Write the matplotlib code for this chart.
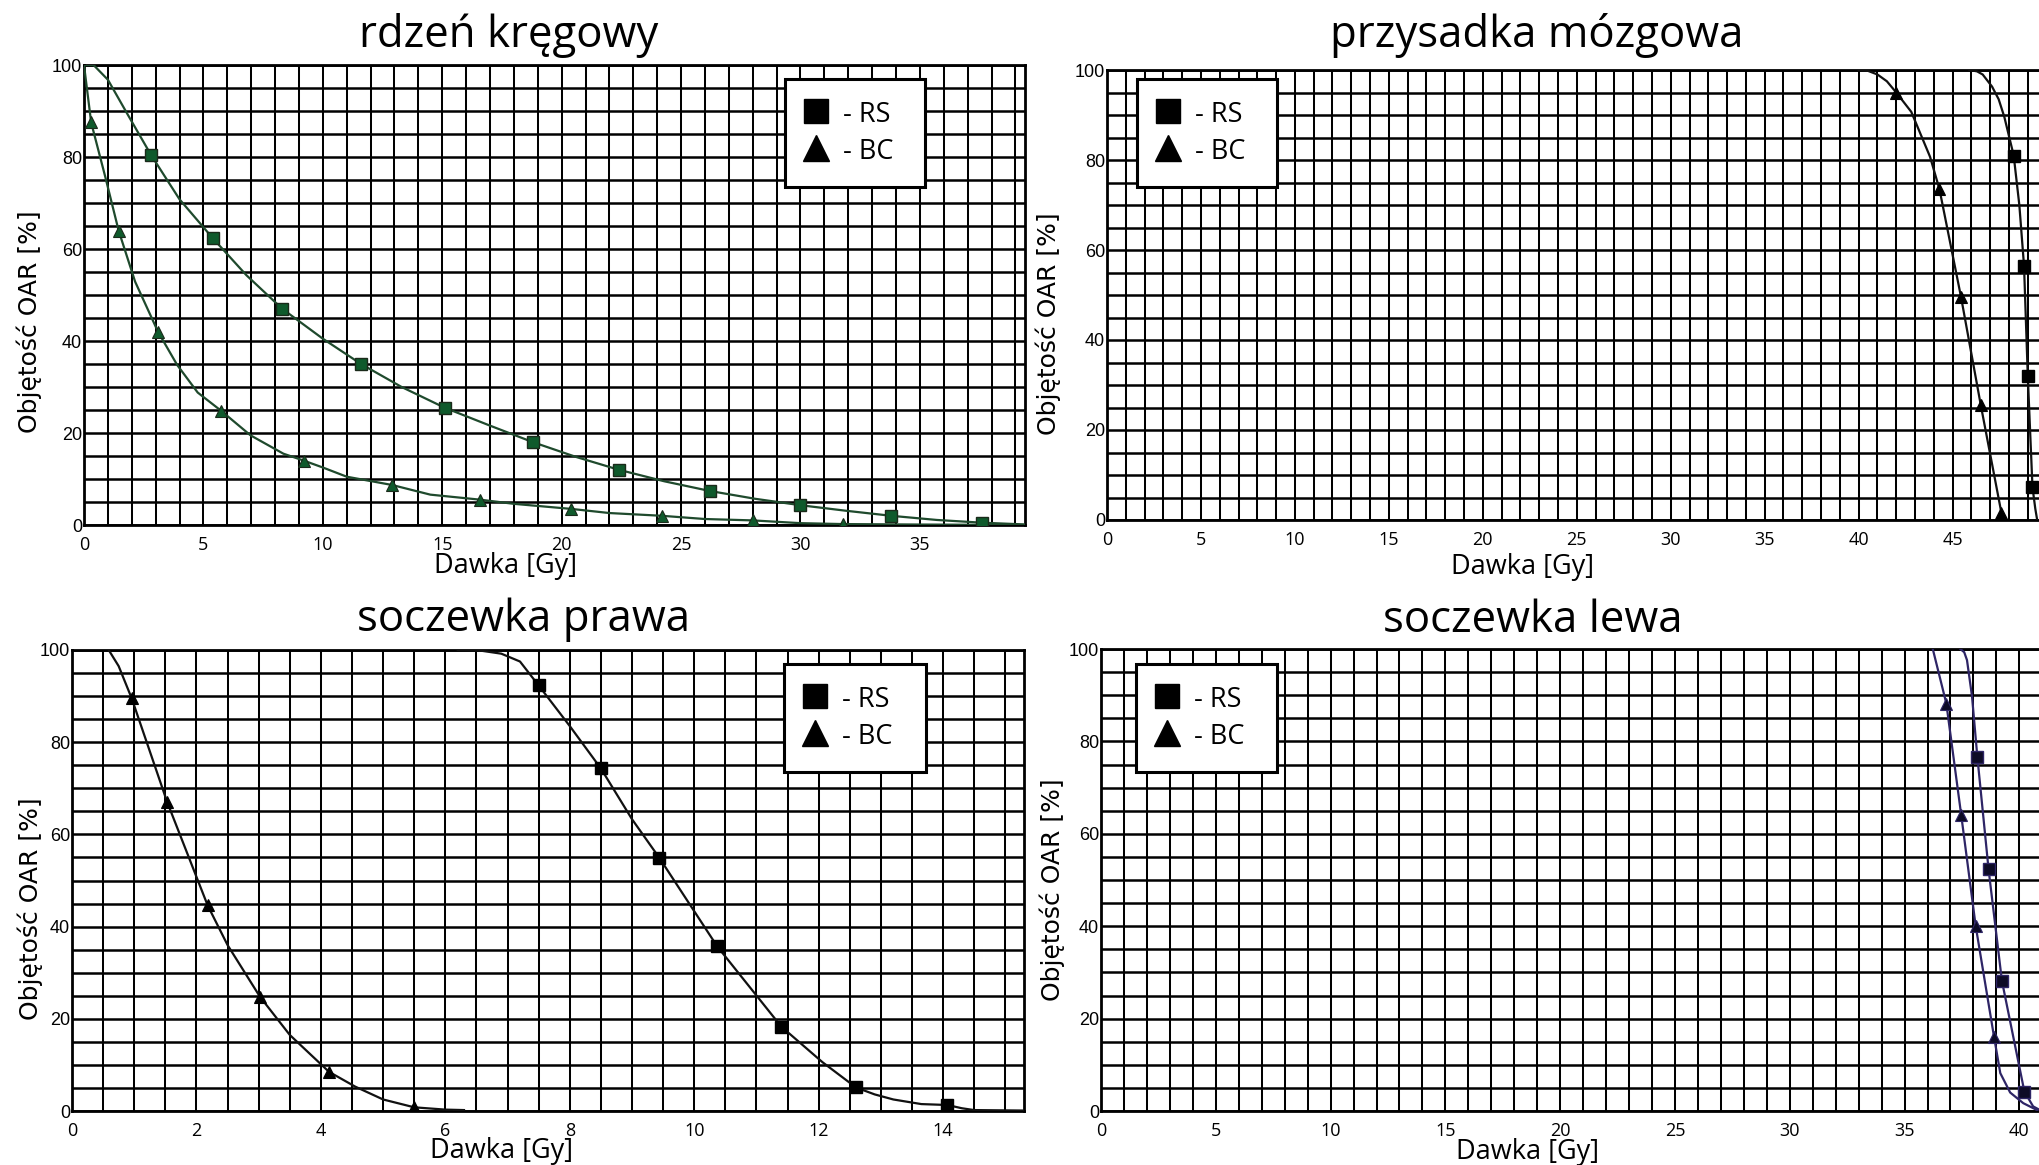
import matplotlib
matplotlib.use("Agg")
import matplotlib.pyplot as plt
from matplotlib.lines import Line2D
from matplotlib.ticker import MultipleLocator

W, H, DPI = 2040, 1165, 100

# ---------------- data ----------------
titles = ["rdzeń kręgowy", "przysadka mózgowa", "soczewka prawa", "soczewka lewa"]
xlabel = "Dawka [Gy]"
ylabel = "Objętość OAR [%]"
legend_labels = ["- RS", "- BC"]

# rdzeń kręgowy
rk_rs_line_x = [0, 0.4, 1.0, 1.8, 2.8, 4.0, 5.4, 6.8, 8.3, 10.0, 11.6, 13.3, 15.1, 17.0, 18.8,
                20.6, 22.4, 24.3, 26.2, 28.1, 30.0, 31.9, 33.8, 35.7, 37.6, 39.5]
rk_rs_line_y = [100, 100, 96.8, 89.5, 80.5, 70.8, 62.3, 54.3, 47, 40.5, 35, 30, 25.5, 21.6, 18,
                14.8, 12, 9.5, 7.4, 5.7, 4.3, 3.1, 2, 1.1, 0.5, 0.1]
rk_rs_mark_x = [2.8, 5.4, 8.3, 11.6, 15.1, 18.8, 22.4, 26.2, 30.0, 33.8, 37.6]
rk_rs_mark_y = [80.5, 62.3, 47, 35, 25.5, 18, 12, 7.4, 4.3, 2, 0.5]
rk_bc_line_x = [0, 0.3, 0.9, 1.45, 2.14, 3.1, 3.9, 4.76, 5.75, 6.97, 8.35, 9.2, 10, 11, 12.9,
                14.5, 16.6, 18, 20.4, 22, 24.2, 26, 28, 30, 31.8, 35, 39.5]
rk_bc_line_y = [100, 87.5, 75.5, 64, 52.9, 42, 34.8, 28.8, 24.8, 19.5, 15.5, 14, 12.5, 10.5,
                8.7, 6.6, 5.5, 4.6, 3.5, 2.6, 2, 1.3, 1, 0.4, 0.2, 0.1, 0]
rk_bc_mark_x = [0.3, 1.45, 3.1, 5.75, 9.2, 12.9, 16.6, 20.4, 24.2, 28.0, 31.8]
rk_bc_mark_y = [87.5, 64, 42, 24.8, 14, 8.7, 5.5, 3.5, 2, 1, 0.2]

# przysadka mózgowa
pm_rs_line_x = [45.9, 46.3, 46.6, 47.1, 47.45, 47.75, 48.25, 48.55, 48.8, 49.0, 49.25, 49.4, 49.5]
pm_rs_line_y = [100, 99.7, 99, 96.3, 93.5, 89.6, 81, 70, 56.5, 32, 7.3, 2.5, 0]
pm_rs_mark_x = [48.25, 48.8, 49.0, 49.25]
pm_rs_mark_y = [81, 56.5, 32, 7.3]
pm_bc_line_x = [40.0, 40.5, 41.0, 41.5, 42.0, 42.8, 43.8, 44.3, 45.45, 46.5, 47.6, 47.8]
pm_bc_line_y = [100, 99.8, 99, 97.5, 95, 90.7, 80.7, 73.5, 49.5, 25.5, 1.5, 0]
pm_bc_mark_x = [42.0, 44.3, 45.45, 46.5, 47.6]
pm_bc_mark_y = [95, 73.5, 49.5, 25.5, 1.5]

# soczewka prawa
sp_rs_line_x = [6.2, 6.6, 6.9, 7.2, 7.5, 8.0, 8.5, 9.0, 9.44, 10.37, 11.4, 12.06, 12.6, 12.9,
                13.2, 13.65, 14.07, 14.3, 14.5, 15.3]
sp_rs_line_y = [100, 99.8, 99.2, 97.5, 92.3, 83.5, 74.3, 63.3, 54.9, 35.7, 18.3, 10.6, 5.1,
                3.6, 2.5, 1.5, 1.3, 0.6, 0.2, 0.1]
sp_rs_mark_x = [7.5, 8.5, 9.44, 10.37, 11.4, 12.6, 14.07]
sp_rs_mark_y = [92.3, 74.3, 54.9, 35.7, 18.3, 5.1, 1.3]
sp_bc_line_x = [0.59, 0.75, 0.96, 1.53, 2.18, 2.5, 3.02, 3.5, 4.13, 4.55, 5.0, 5.5, 6.0, 6.3]
sp_bc_line_y = [100, 96.5, 89.5, 67, 44.6, 36, 24.8, 16.5, 8.5, 5.3, 2.5, 0.8, 0.3, 0.2]
sp_bc_mark_x = [0.96, 1.53, 2.18, 3.02, 4.13, 5.5]
sp_bc_mark_y = [89.5, 67, 44.6, 24.8, 8.5, 0.8]

# soczewka lewa
sl_rs_line_x = [37.43, 37.6, 37.72, 37.94, 38.17, 38.66, 39.24, 40.22, 40.6, 40.9]
sl_rs_line_y = [100, 99.3, 97.6, 89.7, 76.7, 52.3, 28.2, 4.2, 1.0, 0.2]
sl_rs_mark_x = [38.17, 38.66, 39.24, 40.22]
sl_rs_mark_y = [76.7, 52.3, 28.2, 4.2]
sl_bc_line_x = [36.23, 36.82, 37.47, 38.1, 38.9, 39.17, 39.6, 40.17, 40.77]
sl_bc_line_y = [100, 88.2, 64, 40, 16, 8.2, 4.0, 1.7, 0.2]
sl_bc_mark_x = [36.82, 37.47, 38.1, 38.9]
sl_bc_mark_y = [88.2, 64, 40, 16]

y_major = [0, 20, 40, 60, 80, 100]

# ---------------- layout ----------------
panels = [
    dict(rect=(84, 65, 1025, 525), xlim=(0, 39.4), xmaj=5, xmin=1,
         rs=(rk_rs_line_x, rk_rs_line_y, rk_rs_mark_x, rk_rs_mark_y),
         bc=(rk_bc_line_x, rk_bc_line_y, rk_bc_mark_x, rk_bc_mark_y),
         lc="#1f4a2d", mfc="#0f5a2c", mec="#1a2a1a",
         title=(509, 47), ylab=(29, 322), xlab=(506, 566), leg=(785, 79, 925),
         right_spine=True),
    dict(rect=(1107, 70, 2040, 520), xlim=(0, 49.65), xmaj=5, xmin=1,
         rs=(pm_rs_line_x, pm_rs_line_y, pm_rs_mark_x, pm_rs_mark_y),
         bc=(pm_bc_line_x, pm_bc_line_y, pm_bc_mark_x, pm_bc_mark_y),
         lc="#111111", mfc="#000000", mec="#000000",
         title=(1537, 47), ylab=(1048, 324), xlab=(1523, 567), leg=(1137, 79, 1277),
         right_spine=False),
    dict(rect=(72, 650, 1024, 1111), xlim=(0, 15.3), xmaj=2, xmin=0.5,
         rs=(sp_rs_line_x, sp_rs_line_y, sp_rs_mark_x, sp_rs_mark_y),
         bc=(sp_bc_line_x, sp_bc_line_y, sp_bc_mark_x, sp_bc_mark_y),
         lc="#111111", mfc="#000000", mec="#000000",
         title=(524, 631), ylab=(30, 909), xlab=(502, 1151), leg=(784, 664, 926),
         right_spine=True),
    dict(rect=(1101, 649, 2040, 1111), xlim=(0, 40.9), xmaj=5, xmin=1,
         rs=(sl_rs_line_x, sl_rs_line_y, sl_rs_mark_x, sl_rs_mark_y),
         bc=(sl_bc_line_x, sl_bc_line_y, sl_bc_mark_x, sl_bc_mark_y),
         lc="#2e2566", mfc="#0d0b26", mec="#2e2566",
         title=(1533, 632), ylab=(1052, 890), xlab=(1528, 1152), leg=(1136, 664, 1277),
         right_spine=False),
]

fig = plt.figure(figsize=(W / DPI, H / DPI), dpi=DPI)
fig.patch.set_facecolor("white")


def fx(x):
    return x / W


def fy(y):
    return 1 - y / H


for i, p in enumerate(panels):
    l, t, r, b = p["rect"]
    ax = fig.add_axes([fx(l), fy(b), (r - l) / W, (b - t) / H])
    ax.set_xlim(*p["xlim"])
    ax.set_ylim(0, 100)
    ax.xaxis.set_major_locator(MultipleLocator(p["xmaj"]))
    ax.xaxis.set_minor_locator(MultipleLocator(p["xmin"]))
    ax.set_yticks(y_major)
    ax.yaxis.set_minor_locator(MultipleLocator(5))
    ax.set_axisbelow(True)
    ax.grid(which="both", axis="x", color="black", linewidth=1.45)
    ax.grid(which="both", axis="y", color="black", linewidth=1.8)
    ax.tick_params(which="both", length=0)
    ax.tick_params(axis="y", pad=1.5)
    ax.tick_params(axis="x", pad=8)
    for lab in ax.get_yticklabels():
        lab.set_fontfamily("Liberation Sans")
        lab.set_fontsize(13)
    for lab in ax.get_xticklabels():
        lab.set_fontfamily("Open Sans")
        lab.set_fontsize(13)
    for s in ["left", "bottom", "top", "right"]:
        ax.spines[s].set_linewidth(2.0)
        ax.spines[s].set_color("black")
    ax.spines["right"].set_visible(p["right_spine"])

    rlx, rly, rmx, rmy = p["rs"]
    blx, bly, bmx, bmy = p["bc"]
    ax.plot(rlx, rly, color=p["lc"], linewidth=1.6, zorder=3, solid_joinstyle="round")
    ax.plot(blx, bly, color=p["lc"], linewidth=1.6, zorder=3, solid_joinstyle="round")
    ax.plot(rmx, rmy, linestyle="none", marker="s", markersize=8,
            markerfacecolor=p["mfc"], markeredgecolor=p["mec"], markeredgewidth=1.0, zorder=4)
    ax.plot(bmx, bmy, linestyle="none", marker="^", markersize=8,
            markerfacecolor=p["mfc"], markeredgecolor=p["mec"], markeredgewidth=0.8, zorder=4)

    # legend
    lx0, ly0, lx1 = p["leg"]
    handles = [
        Line2D([], [], linestyle="none", marker="s", markersize=17, color="black"),
        Line2D([], [], linestyle="none", marker="^", markersize=19, color="black"),
    ]
    leg = ax.legend(handles, legend_labels, loc="upper left",
                    bbox_to_anchor=(fx(lx0), fy(ly0) - 0.2, (lx1 - lx0) / W, 0.2),
                    bbox_transform=fig.transFigure, mode="expand", borderaxespad=0,
                    prop={"family": "Open Sans", "size": 19.5},
                    frameon=True, fancybox=False, framealpha=1, edgecolor="black",
                    borderpad=0.78, handlelength=0.75, handletextpad=0.6,
                    labelspacing=0.33, handleheight=1.0)
    leg.get_frame().set_linewidth(2.2)

    # texts
    tx, ty = p["title"]
    fig.text(fx(tx), fy(ty), titles[i], ha="center", va="baseline",
             fontsize=31.5, family="Open Sans", color="black")
    yx, yy = p["ylab"]
    fig.text(fx(yx), fy(yy), ylabel, ha="center", va="center", rotation=90,
             fontsize=18, family="DejaVu Sans", color="black")
    xx, xy = p["xlab"]
    fig.text(fx(xx), fy(xy), xlabel, ha="center", va="center",
             fontsize=19.5, family="Open Sans", color="black")

fig.savefig("out.png", dpi=DPI, facecolor="white")
